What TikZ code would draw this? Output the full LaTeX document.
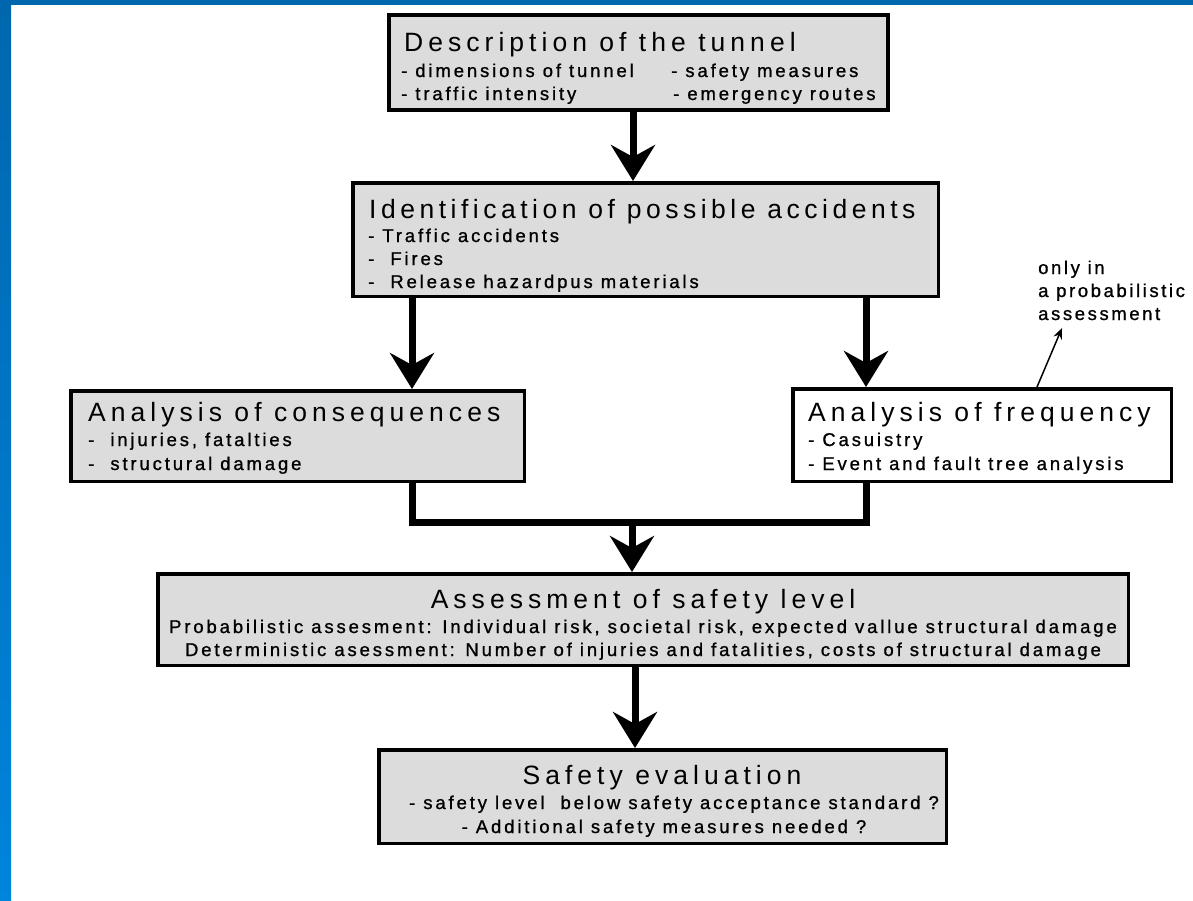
\documentclass[tikz,border=0pt]{standalone}
\usepackage{fontspec}
\setmainfont{Liberation Sans}
\newfontfamily\titlefam[LetterSpace=19]{Liberation Sans}
\newfontfamily\titlefamB[LetterSpace=17]{Liberation Sans}
\newfontfamily\bodyfam[LetterSpace=15.5, FakeBold=1]{Liberation Sans}
\newfontfamily\notefam[LetterSpace=14, FakeBold=1]{Liberation Sans}
\usetikzlibrary{arrows.meta}
\definecolor{boxgray}{HTML}{DCDCDC}
\definecolor{blueTop}{HTML}{0067AE}
\definecolor{blueBot}{HTML}{0084DC}
\tikzset{
  box/.style={draw=black, line width=3.5pt, fill=boxgray, inner sep=0pt},
  wbox/.style={box, fill=white},
  ttl/.style={inner sep=0pt, anchor=base west, font=\titlefam\fontsize{26.5}{30}\selectfont},
  ttlc/.style={ttl, anchor=base},
  body/.style={inner sep=0pt, anchor=base west, font=\bodyfam\fontsize{18.5}{22}\selectfont},
  bodyc/.style={body, anchor=base},
  notetxt/.style={body, font=\notefam\fontsize{18.5}{22}\selectfont},
  flow/.style={line width=7pt, -{Stealth[length=36pt, width=44pt, inset=12pt]}},
  joinline/.style={line width=7pt, line cap=rect},
  note/.style={line width=1.5pt, -{Stealth[length=11pt, width=9pt]}},
}
\begin{document}
\begin{tikzpicture}[x=1pt, y=-1pt]
\useasboundingbox (0,0) rectangle (1193,900);
\fill[white] (0,0) rectangle (1193,900);
\shade[top color=blueTop, bottom color=blueBot] (0,0) rectangle (11,900);
\fill[blueTop] (0,0) rectangle (1193,5);

% boxes
\node[box, minimum width=499pt, minimum height=95pt] (desc) at (638.5,62.5) {};
\node[box, minimum width=585.5pt, minimum height=113.5pt] (ident) at (645.5,239.5) {};
\node[box, minimum width=453.5pt, minimum height=90.5pt] (cons) at (297.5,436) {};
\node[wbox, minimum width=378.5pt, minimum height=92.5pt] (freq) at (982,435) {};
\node[box, minimum width=970.5pt, minimum height=91.5pt] (assess) at (643,619.5) {};
\node[box, minimum width=567.5pt, minimum height=93.5pt] (safe) at (662.5,796.5) {};

% texts: description
\node[ttl] (t1) at (404,51) {Description of the tunnel};
\node[body] (t1a) at (401,77) {- dimensions of tunnel};
\node[body] (t1b) at (401,100) {- traffic intensity};
\node[body] (t1c) at (671,77) {- safety measures};
\node[body] (t1d) at (673,100) {- emergency routes};

% identification
\node[ttl, font=\titlefamB\fontsize{26.5}{30}\selectfont] (t2) at (369,218) {Identification of possible accidents};
\node[body] (t2a) at (368,242) {- Traffic accidents};
\node[body] (t2b) at (368,265) {-~~Fires};
\node[body] (t2c) at (368,288) {-~~Release hazardpus materials};

% consequences
\node[ttl] (t3) at (88,421) {Analysis of consequences};
\node[body] (t3a) at (88,446) {-~~injuries, fatalties};
\node[body] (t3b) at (88,470) {-~~structural damage};

% frequency
\node[ttl] (t4) at (808,421) {Analysis of frequency};
\node[body] (t4a) at (808,446) {- Casuistry};
\node[body] (t4b) at (808,470) {- Event and fault tree analysis};

% assessment
\node[ttlc] (t5) at (643,608) {Assessment of safety level};
\node[bodyc] (t5a) at (643,633) {Probabilistic assesment: Individual risk, societal risk, expected vallue structural damage};
\node[bodyc] (t5b) at (643,656) {Deterministic asessment: Number of injuries and fatalities, costs of structural damage};

% safety evaluation
\node[ttlc] (t6) at (662,784) {Safety evaluation};
\node[bodyc] (t6a) at (674,809) {- safety level~~below safety acceptance standard ?};
\node[bodyc] (t6b) at (664,833) {- Additional safety measures needed ?};

% annotation
\node[notetxt] (n1) at (1038,274) {only in};
\node[notetxt] (n2) at (1038,297) {a probabilistic};
\node[notetxt] (n3) at (1038,320) {assessment};

% connectors
\coordinate (xa) at (633,0);
\coordinate (xl) at (412,0);
\coordinate (xr) at (866,0);
\coordinate (xm) at (632,522);
\coordinate (xb) at (635,0);
\draw[flow] (desc.south -| xa) -- (ident.north -| xa);
\draw[flow] (ident.south -| xl) -- (cons.north -| xl);
\draw[flow] (ident.south -| xr) -- (freq.north -| xr);
\draw[joinline] (cons.south -| xl) -- (xl |- xm) -- (xr |- xm) -- (freq.south -| xr);
\draw[flow] (xm) -- (assess.north -| xm);
\draw[flow] (assess.south -| xb) -- (safe.north -| xb);
\coordinate (nt) at (1037,0);
\draw[note] (freq.north -| nt) -- (1062,328);
\end{tikzpicture}
\end{document}
